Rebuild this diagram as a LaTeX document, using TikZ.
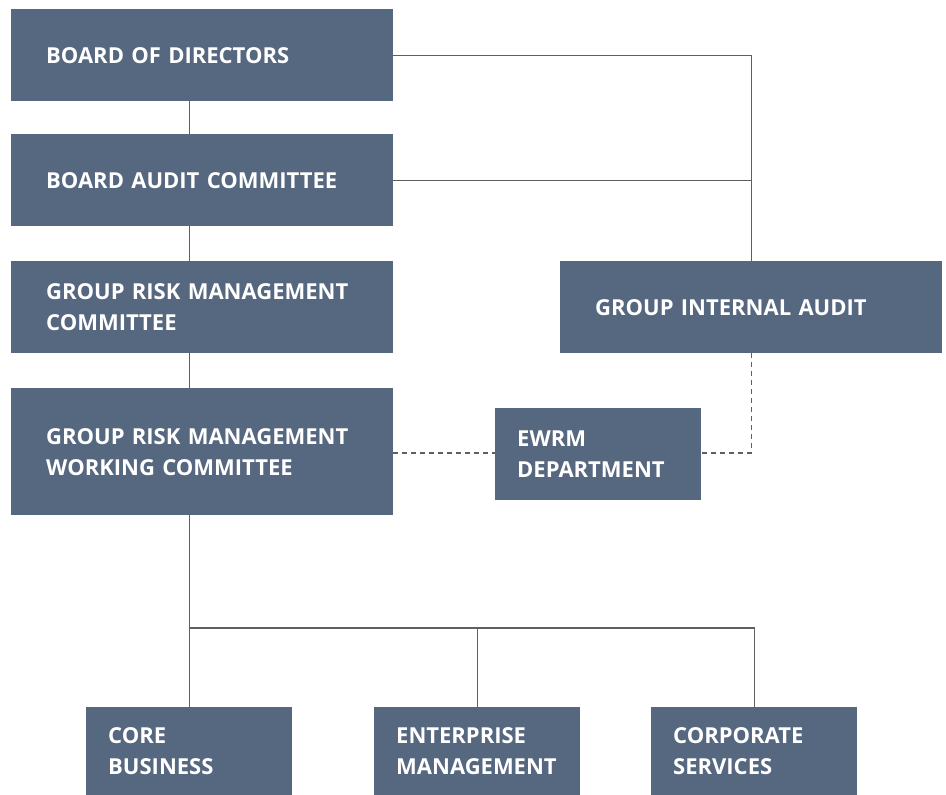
\documentclass[tikz,border=0pt]{standalone}
\usepackage{fontspec}
\setmainfont{Open Sans}
\usetikzlibrary{positioning}
\definecolor{boxblue}{RGB}{86,103,128}
\definecolor{linegray}{RGB}{95,95,95}
\tikzset{box/.style={fill=boxblue,text=white,font=\bfseries\fontsize{22}{31}\selectfont,anchor=north west,align=left,inner ysep=0pt},
	bigbox/.style={box,text width=312pt,inner xsep=35pt,minimum height=92pt},
	smallbox/.style={box,text width=162pt,inner xsep=22pt,minimum height=88pt},
	link/.style={draw=linegray,line width=1.2pt},
	dashlink/.style={link,dash pattern=on 5pt off 4pt}}

\begin{document}
\begin{tikzpicture}[x=1pt,y=-1pt]
	\useasboundingbox (0,0) rectangle (946,795);
	% left column
	\node[bigbox] (bod) at (11,9) {BOARD OF DIRECTORS};
	\node[bigbox] (bac) at (11,134) {BOARD AUDIT COMMITTEE};
	\node[bigbox] (grmc) at (11,261) {GROUP RISK MANAGEMENT\\COMMITTEE};
	\node[bigbox,minimum height=127pt] (grmwc) at (11,388) {GROUP RISK MANAGEMENT\\WORKING COMMITTEE};
	% right side
	\node[bigbox] (gia) at (560,261) {GROUP INTERNAL AUDIT};
	\node[smallbox,minimum height=92pt] (ewrm) at (495,408) {EWRM\\DEPARTMENT};
	% bottom row
	\node[smallbox] (core) at (86,707) {CORE\\BUSINESS};
	\node[smallbox] (ent) at (374,707) {ENTERPRISE\\MANAGEMENT};
	\node[smallbox] (corp) at (651,707) {CORPORATE\\SERVICES};
	\path (0,628) coordinate (bus)
	      (0,453) coordinate (ewline);
	
	\draw[link] (bod.south -| core.north) -- (bac.north -| core.north)
	            (bac.south -| core.north) -- (grmc.north -| core.north)
	            (grmc.south -| core.north) -- (grmwc.north -| core.north)
	            (grmwc.south -| core.north) -- (core.north);
	\draw[link] (bus -| core.north) -| (corp.north)
	            (bus -| ent.north) -- (ent.north);
	\draw[link] (bod.east) -| (gia.north)
	            (bac.east) -- (bac.east -| gia.north);
	\draw[dashlink] (grmwc.east |- ewline) -- (ewrm.west |- ewline);
	\draw[dashlink] (gia.south) |- (ewrm.east |- ewline);
\end{tikzpicture}
\end{document}
